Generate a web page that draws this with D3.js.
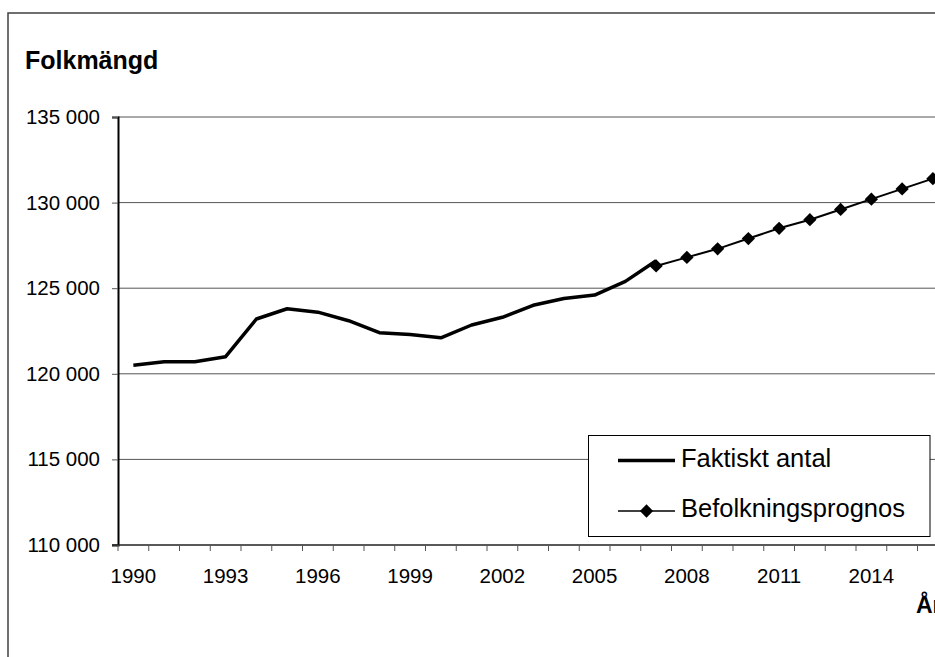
<!DOCTYPE html>
<html>
<head>
<meta charset="utf-8">
<script src="https://cdn.jsdelivr.net/npm/d3@7"></script>
<style>
  body { margin: 0; background: #fff; }
  svg { display: block; font-family: "Liberation Sans", Arial, sans-serif; }
</style>
</head>
<body>
<div id="chart"></div>
<script>
// years on the category axis (axis runs past the right edge of the picture)
var years = d3.range(1990, 2018);
var tickYears = [1990, 1993, 1996, 1999, 2002, 2005, 2008, 2011, 2014];
var yTicks = [110000, 115000, 120000, 125000, 130000, 135000];

// Faktiskt antal
var actualYears = [1990, 1991, 1992, 1993, 1994, 1995, 1996, 1997, 1998, 1999,
                   2000, 2001, 2002, 2003, 2004, 2005, 2006, 2007];
var actualValues = [120500, 120700, 120700, 121000, 123200, 123800, 123600, 123100, 122400, 122300,
                    122100, 122850, 123300, 124000, 124400, 124600, 125400, 126600];

// Befolkningsprognos
var progYears = [2007, 2008, 2009, 2010, 2011, 2012, 2013, 2014, 2015, 2016];
var progValues = [126300, 126800, 127300, 127900, 128500, 129000, 129600, 130200, 130800, 131400];

var W = 935, H = 657;
var plotL = 118, plotT = 117, plotB = 545;
var bandW = 30.75;
var plotR = plotL + years.length * bandW;

var svg = d3.select("#chart").append("svg")
  .attr("width", W)
  .attr("height", H);

// outer frame
svg.append("rect")
  .attr("x", 8).attr("y", 13)
  .attr("width", 1000).attr("height", 1000)
  .attr("fill", "none")
  .attr("stroke", "#404040")
  .attr("stroke-width", 1.5);

var x = d3.scaleBand()
  .domain(years)
  .range([plotL, plotR]);

var y = d3.scaleLinear()
  .domain([110000, 135000])
  .range([plotB, plotT]);

var fmt = function(v) { return d3.format(",")(v).replace(",", " "); };

// gridlines
svg.append("g")
  .selectAll("line")
  .data(yTicks.filter(function(d) { return d > 110000; }))
  .enter()
  .append("line")
  .attr("x1", plotL).attr("x2", plotR)
  .attr("y1", function(d) { return y(d); })
  .attr("y2", function(d) { return y(d); })
  .attr("stroke", "#555")
  .attr("stroke-width", 1);

// y axis
var yAxis = svg.append("g")
  .attr("transform", "translate(" + plotL + ",0)")
  .call(d3.axisLeft(y).tickValues(yTicks).tickSize(6).tickFormat(fmt));
yAxis.select(".domain").attr("stroke", "#000").attr("stroke-width", 2);
yAxis.selectAll(".tick line").attr("stroke", "#555");
yAxis.selectAll("text")
  .attr("x", -18)
  .style("font-size", "20.5px")
  .style("font-family", "Liberation Sans, Arial, sans-serif")
  .attr("fill", "#000");

// x axis: ticks at category boundaries, labels centred in categories
var xb = svg.append("g").attr("transform", "translate(0," + plotB + ")");
xb.append("line")
  .attr("x1", plotL - 6).attr("x2", plotR)
  .attr("stroke", "#222").attr("stroke-width", 1.5);
xb.selectAll("line.tk")
  .data(years)
  .enter()
  .append("line")
  .attr("class", "tk")
  .attr("x1", function(d) { return x(d); })
  .attr("x2", function(d) { return x(d); })
  .attr("y1", 0).attr("y2", 6)
  .attr("stroke", "#555");
xb.selectAll("text")
  .data(tickYears)
  .enter()
  .append("text")
  .attr("x", function(d) { return x(d) + x.bandwidth() / 2; })
  .attr("y", 37.5)
  .attr("text-anchor", "middle")
  .style("font-size", "20.5px")
  .text(function(d) { return d; });

var line = d3.line()
  .x(function(d) { return x(d[0]) + x.bandwidth() / 2; })
  .y(function(d) { return y(d[1]); });

var actual = d3.zip(actualYears, actualValues);
var prog = d3.zip(progYears, progValues);

svg.append("path")
  .attr("d", line(actual))
  .attr("fill", "none")
  .attr("stroke", "#000")
  .attr("stroke-width", 3.5)
  .attr("stroke-linejoin", "round");

svg.append("path")
  .attr("d", line(prog))
  .attr("fill", "none")
  .attr("stroke", "#000")
  .attr("stroke-width", 2);

var diamond = d3.symbol().type(d3.symbolSquare).size(88);
svg.selectAll("path.pt")
  .data(prog)
  .enter()
  .append("path")
  .attr("class", "pt")
  .attr("d", diamond)
  .attr("transform", function(d) {
    return "translate(" + (x(d[0]) + x.bandwidth() / 2) + "," + y(d[1]) + ") rotate(45)";
  })
  .attr("fill", "#000");

// title
svg.append("text")
  .attr("x", 25).attr("y", 69)
  .style("font-size", "25px")
  .style("font-weight", "bold")
  .text("Folkmängd");

// x axis title
svg.append("text")
  .attr("x", 916).attr("y", 613)
  .style("font-size", "23px")
  .style("font-weight", "bold")
  .text("År");

// legend
var lg = svg.append("g");
lg.append("rect")
  .attr("x", 588.5).attr("y", 435.5)
  .attr("width", 341.5).attr("height", 101)
  .attr("fill", "#fff")
  .attr("stroke", "#000")
  .attr("stroke-width", 1);
lg.append("line")
  .attr("x1", 618).attr("x2", 675)
  .attr("y1", 460.5).attr("y2", 460.5)
  .attr("stroke", "#000").attr("stroke-width", 3.5);
lg.append("text")
  .attr("x", 681).attr("y", 467)
  .style("font-size", "25.5px")
  .text("Faktiskt antal");
lg.append("line")
  .attr("x1", 618).attr("x2", 675)
  .attr("y1", 511).attr("y2", 511)
  .attr("stroke", "#000").attr("stroke-width", 1.5);
lg.append("path")
  .attr("d", diamond)
  .attr("transform", "translate(646.5,511) rotate(45)")
  .attr("fill", "#000");
lg.append("text")
  .attr("x", 681).attr("y", 517)
  .style("font-size", "25.5px")
  .text("Befolkningsprognos");
</script>
</body>
</html>
